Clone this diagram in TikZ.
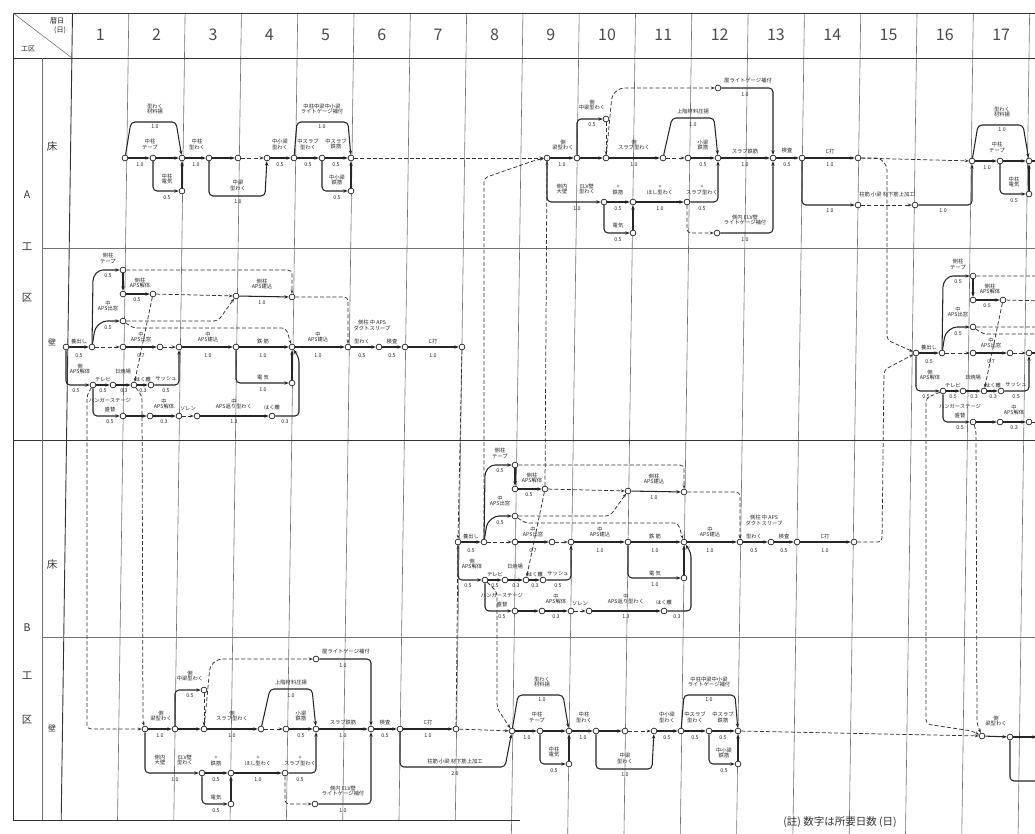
\documentclass[tikz,border=0pt]{standalone}
\usepackage{fontspec}
\setmainfont{Noto Sans CJK JP}
\usetikzlibrary{arrows.meta}
\tikzset{
  ev/.style={circle,draw=black!85,fill=white,inner sep=0pt,minimum size=5.8pt,line width=0.7pt},
  act/.style={draw=black!85,line width=1.05pt,rounded corners=4pt,-{Stealth[length=4.4pt,width=3.4pt]}},
  dum/.style={draw=black!80,line width=0.75pt,rounded corners=4pt,dash pattern=on 4pt off 2.2pt,-{Stealth[length=4pt,width=3pt]}},
  lb/.style={font=\fontsize{5.3}{5.9}\selectfont,align=center,inner sep=0pt,text=black!85},
  gl/.style={draw=black!55,line width=0.6pt},
  fr/.style={draw=black!80,line width=0.9pt},
  hd/.style={font=\fontsize{16}{16}\selectfont,inner sep=0pt,text=black!70},
  side/.style={font=\fontsize{10.5}{10.5}\selectfont,inner sep=0pt,text=black!80},
}
\def\dxoff{0}
\def\splitxy#1,#2\relax#3#4{%
  \pgfmathtruncatemacro\lbok{(#1+\dxoff)<1020}%
  \ifnum\lbok=1 \node[lb] (#3) at (#1,#2) {#4};\fi}
\newcommand\lbx[3]{\splitxy#2\relax{#1}{#3}}
% ---------- floor network, first half (A床 cols 2-6) ----------
\newcommand\netFa{%
\node[ev] (n1) at (125,158) {};
\node[ev] (n2) at (153,158) {};
\node[ev] (n3) at (182,158) {};
\node[ev] (n4) at (209,158) {};
\node[ev] (n5) at (238,158) {};
\node[ev] (n6) at (267,158) {};
\node[ev] (n7) at (294,158) {};
\node[ev] (n8) at (322,158) {};
\node[ev] (n9) at (351,158) {};
\node[ev] (n10) at (182,191) {};
\node[ev] (n11) at (351,191) {};
\draw[act] (n1) -- (n2);
\draw[act] (n2) -- (n3);
\draw[act] (n1) -- (131,122) -- (176,122) -- (n3);
\draw[act] (n2) |- (n10);
\draw[act] (n10) -- (n3);
\draw[act] (n3) -- (n4);
\draw[act] (n4) -- (n5);
\draw[dum] (n5) -- (n6);
\draw[act] (n4) -- (209,196) -- (265,196) -- (n6);
\draw[act] (n6) -- (n7);
\draw[act] (n7) -- (n8);
\draw[act] (n8) -- (n9);
\draw[act] (n7) -- (297,122) -- (348,122) -- (n9);
\draw[act] (n8) |- (n11);
\draw[act] (n11) -- (n9);
\lbx{t1}{155,109}{型わく\\材料揚}
\lbx{t2}{155,127}{1.0}
\lbx{t3}{150,144}{中柱\\テープ}
\lbx{t4}{140,165}{1.0}
\lbx{t5}{167,179}{中柱\\電気}
\lbx{t6}{167,198}{0.5}
\lbx{t7}{197,144}{中柱\\型わく}
\lbx{t8}{196,165}{1.0}
\lbx{t9}{238,185}{中梁\\型わく}
\lbx{t10}{238,202}{1.0}
\lbx{t11}{280,144}{中小梁\\型わく}
\lbx{t12}{280,165}{0.5}
\lbx{t13}{308,144}{中スラブ\\型わく}
\lbx{t14}{308,165}{0.5}
\lbx{t15}{336,144}{中スラブ\\鉄筋}
\lbx{t16}{336,165}{0.5}
\lbx{t17}{322,109}{中柱中梁中小梁\\ライトゲージ補付}
\lbx{t18}{322,127}{1.0}
\lbx{t19}{337,180}{中小梁\\鉄筋}
\lbx{t20}{337,198}{0.5}
}
% ---------- floor network, second half (A床 cols 9-14) ----------
\newcommand\netFb{%
\node[ev] (m1) at (547,158) {};
\node[ev] (m2) at (577,158) {};
\node[ev] (m3) at (606,158) {};
\node[ev] (m4) at (663,158) {};
\node[ev] (m5) at (688,158) {};
\node[ev] (m6) at (718,158) {};
\node[ev] (m7) at (773,158) {};
\node[ev] (m8) at (802,158) {};
\node[ev] (m9) at (858,158) {};
\node[ev] (m10) at (606,119) {};
\node[ev] (m11) at (718,88) {};
\node[ev] (m12) at (604,202) {};
\node[ev] (m13) at (633,202) {};
\node[ev] (m14) at (687,202) {};
\node[ev] (m15) at (633,233) {};
\node[ev] (m16) at (717,233) {};
\draw[act] (m1) -- (m2);
\draw[act] (m2) -- (m3);
\draw[act] (m2) |- (m10);
\draw[dum] (m10) -- (m3);
\draw[act] (m3) -- (m4);
\draw[dum] (m3) -- (612,95) -- (620,88) -- (m11);
\draw[act] (m11) -| (m7);
\draw[act] (m4) -- (672,118) -- (714,118) -- (m6);
\draw[dum] (m4) -- (m5);
\draw[act] (m5) -- (m6);
\draw[act] (m6) -- (m7);
\draw[act] (m7) -- (m8);
\draw[act] (m8) -- (m9);
\draw[act] (m1) |- (m12);
\draw[act] (m12) -- (m13);
\draw[act] (m12) |- (m15);
\draw[act] (m15) -- (m13);
\draw[act] (m13) -- (m14);
\draw[act] (m14) -| (m6);
\draw[dum] (m14) |- (m16);
\draw[act] (m16) -| (m7);
\lbx{s1}{563,145}{側\\梁型わく}
\lbx{s2}{562,165}{1.0}
\lbx{s3}{592,105}{側\\中梁型わく}
\lbx{s4}{592,125}{0.5}
\lbx{s5}{634,145}{側\\スラブ型わく}
\lbx{s6}{634,165}{1.0}
\lbx{s7}{748,80}{屋ライトゲージ補付}
\lbx{s8}{745,95}{1.0}
\lbx{s9}{693,111}{上階材料圧揚}
\lbx{s10}{693,125}{1.0}
\lbx{s11}{703,145}{小梁\\鉄筋}
\lbx{s12}{703,165}{0.5}
\lbx{s13}{745,151}{スラブ鉄筋}
\lbx{s14}{745,165}{1.0}
\lbx{s15}{787,151}{検査}
\lbx{s16}{787,165}{0.5}
\lbx{s17}{830,151}{C打}
\lbx{s18}{830,165}{1.0}
\lbx{s21}{562,189}{側内\\大壁}
\lbx{s22}{587,189}{ELV壁\\型わく}
\lbx{s23}{577,209}{1.0}
\lbx{s24}{618,190}{+\\鉄筋}
\lbx{s25}{618,209}{0.5}
\lbx{s26}{618,226}{電気}
\lbx{s27}{618,240}{0.5}
\lbx{s28}{660,190}{+\\ほし型わく}
\lbx{s29}{660,209}{1.0}
\lbx{s30}{702,190}{+\\スラブ型わく}
\lbx{s31}{702,209}{0.5}
\lbx{s32}{745,220}{側内 ELV壁\\ライトゲージ補付}
\lbx{s33}{745,240}{1.0}
}
% ---------- wall network (A壁 cols 1-8) ----------
\newcommand\netW{%
\node[ev] (w1) at (66,347) {};
\node[ev] (w2) at (92,347) {};
\node[ev] (w3) at (123,347) {};
\node[ev] (w4) at (160,347) {};
\node[ev] (w5) at (179,347) {};
\node[ev] (w6) at (236,347) {};
\node[ev] (w7) at (292,347) {};
\node[ev] (w8) at (348,347) {};
\node[ev] (w9) at (379,347) {};
\node[ev] (w10) at (405,347) {};
\node[ev] (w11) at (462,347) {};
\node[ev] (u1) at (123,270) {};
\node[ev] (u2) at (123,294) {};
\node[ev] (u3) at (153,294) {};
\node[ev] (u4) at (123,321) {};
\node[ev] (u5) at (236,296) {};
\node[ev] (u6) at (292,297) {};
\node[ev] (e1) at (292,383) {};
\node[ev] (l1) at (93,385) {};
\node[ev] (l2) at (113,385) {};
\node[ev] (l3) at (134,385) {};
\node[ev] (l4) at (151,385) {};
\node[ev] (l5) at (123,416) {};
\node[ev] (l6) at (150,416) {};
\node[ev] (l7) at (179,416) {};
\node[ev] (l8) at (197,416) {};
\node[ev] (l9) at (272,416) {};
\draw[act] (w1) -- (w2);
\draw[act] (w2) -- (93,277) -- (99,270) -- (u1);
\draw[act] (w2) -- (95,328) -- (103,321) -- (u4);
\draw[act] (u1) -- (u2);
\draw[act] (u2) -- (u3);
\draw[dum] (u1) -| (u6);
\draw[dum] (u3) -- (u5);
\draw[dum] (u4) -- (218,321) -- (u5);
\draw[dum] (u4) -- (133,328) -- (286,328) -- (w7);
\draw[dum] (u3) -- (l3);
\draw[dum] (w2) -- (w3);
\draw[act] (w3) -- (w4);
\draw[dum] (w4) -- (w5);
\draw[act] (w5) -- (w6);
\draw[act] (w6) -- (w7);
\draw[act] (w6) |- (e1);
\draw[act] (e1) -- (w7);
\draw[act] (u5) -- (u6);
\draw[dum] (u6) -| (w8);
\draw[act] (w7) -- (w8);
\draw[act] (w8) -- (w9);
\draw[act] (w9) -- (w10);
\draw[act] (w10) -- (w11);
\draw[act] (w1) |- (l1);
\draw[act] (l1) -- (l2);
\draw[act] (l2) -- (l3);
\draw[act] (l3) -- (l4);
\draw[act] (l4) -| (w5);
\draw[act] (l1) |- (l5);
\draw[act] (l5) -- (l6);
\draw[act] (l6) -- (l7);
\draw[dum] (l7) -- (l8);
\draw[act] (l8) -- (l9);
\draw[act] (l9) -- (299,416) -- (299,358) -- (w7);
\lbx{r1}{79,341}{養出し}
\lbx{r2}{79,356}{0.5}
\lbx{r3}{108,258}{側柱\\テープ}
\lbx{r4}{108,276}{0.5}
\lbx{r5}{140,283}{側柱\\APS解体}
\lbx{r6}{137,300}{0.5}
\lbx{r7}{108,306}{中\\APS出窓}
\lbx{r8}{108,328}{0.5}
\lbx{r9}{141,337}{中\\APS出窓}
\lbx{r10}{141,356}{0.7}
\lbx{r11}{208,337}{中\\APS建込}
\lbx{r12}{208,356}{1.0}
\lbx{r13}{263,341}{鉄\ 筋}
\lbx{r14}{263,356}{1.0}
\lbx{r15}{263,378}{電\ 気}
\lbx{r16}{263,390}{1.0}
\lbx{r17}{262,284}{側柱\\APS建込}
\lbx{r18}{262,303}{1.0}
\lbx{r19}{318,337}{中\\APS建込}
\lbx{r20}{318,356}{1.0}
\lbx{r21}{372,325}{側柱 中 APS\\ダクトスリーブ}
\lbx{r22}{362,341}{型わく}
\lbx{r23}{362,356}{0.5}
\lbx{r24}{392,341}{検査}
\lbx{r25}{392,356}{0.5}
\lbx{r26}{433,341}{C打}
\lbx{r27}{433,356}{1.0}
\lbx{r28}{80,369}{側\\APS解体}
\lbx{r29}{76,391}{0.5}
\lbx{r30}{123,371}{日焼場}
\lbx{r31}{103,379}{テレビ}
\lbx{r32}{143,379}{はく離}
\lbx{r33}{166,379}{サッシュ}
\lbx{r34}{103,391}{0.5}
\lbx{r35}{124,391}{0.3}
\lbx{r36}{143,391}{0.3}
\lbx{r37}{166,391}{0.5}
\lbx{r38}{110,400}{ハンガーステージ}
\lbx{r39}{110,409}{盛替}
\lbx{r40}{110,422}{0.5}
\lbx{r41}{164,404}{中\\APS解体}
\lbx{r42}{164,422}{0.3}
\lbx{r47}{188,409}{ソレン}
\lbx{r43}{234,404}{中\\APS返り型わく}
\lbx{r44}{234,422}{1.3}
\lbx{r45}{272,407}{はく離}
\lbx{r46}{285,422}{0.3}
}
\begin{document}
\begin{tikzpicture}[x=1pt,y=-1pt]
\path[use as bounding box] (0,0) rectangle (1035,834);
\clip (0,0) rectangle (1035,834);
\fill[white] (0,0) rectangle (1035,834);
% ---------- grid ----------
\foreach \k in {2,...,8}{
  \pgfmathsetmacro\cx{66+(\k-1)*56.3}
  \draw[gl] (\cx+6.5,13) -- (\cx-4.8,820);
}
\foreach \k in {9,...,18}{
  \pgfmathsetmacro\cx{66+(\k-1)*56.3}
  \draw[gl] (\cx+6.5,13) -- (\cx-5,834);
}
\foreach \k in {1,...,17}{
  \pgfmathsetmacro\cx{66+(\k-1)*56.3+28.15+6.2}
  \node[hd] (h\k) at (\cx,35) {\k};
}
\draw[fr] (72.5,13) -- (61.2,820);
\draw[fr] (13,13) -- (1035,13);
\draw[fr] (13,58) -- (1035,58);
\draw[fr] (13,13) -- (13,820) -- (520,820);
\draw[fr] (13,440) -- (1035,440);
\draw[gl] (42,58) -- (42,820);
\draw[gl] (42,248) -- (1035,248);
\draw[gl] (42,637) -- (1035,637);
\draw[gl] (13,13) -- (72,58);
\node[lb,font=\fontsize{7}{7}\selectfont] (hd1) at (57,21) {暦日};
\node[lb,font=\fontsize{7}{7}\selectfont] (hd2) at (60,30) {(日)};
\node[lb,font=\fontsize{7}{7}\selectfont] (hd3) at (28,49) {工区};
\node[side] (sA) at (27,195) {A};
\node[side] (sA2) at (27,247) {工};
\node[side] (sA3) at (27,298) {区};
\node[side] (sAf) at (52,147) {床};
\node[side,font=\fontsize{8}{8}\selectfont] (sAw) at (52,342) {壁};
\node[side] (sB) at (27,628) {B};
\node[side] (sB2) at (27,676) {工};
\node[side] (sB3) at (27,720) {区};
\node[side] (sBf) at (52,565) {床};
\node[side,font=\fontsize{8}{8}\selectfont] (sBw) at (52,728) {壁};
% ---------- networks ----------
\begin{scope}[name prefix=p-] \netFa \end{scope}
\begin{scope}[name prefix=q-] \netFb \end{scope}
\begin{scope}[shift={(847,3)},name prefix=d-] \def\dxoff{847}\netFa \end{scope}
\begin{scope}[name prefix=a-] \netW \end{scope}
\begin{scope}[shift={(392,195)},name prefix=b-] \def\dxoff{392}\netW \end{scope}
\begin{scope}[shift={(850,6)},name prefix=c-] \def\dxoff{850}\netW \end{scope}
\begin{scope}[shift={(-402,571)},name prefix=g-] \def\dxoff{-402}\netFb \end{scope}
\begin{scope}[shift={(387,573)},name prefix=h-] \def\dxoff{387}\netFa \end{scope}
\begin{scope}[shift={(463,579)},name prefix=i-] \def\dxoff{463}\netFb \end{scope}
% ---------- A floor links ----------
\draw[dum] (p-n9) -- (q-m1);
\node[ev] (ae1) at (858,205) {};
\node[ev] (ae2) at (915,205) {};
\draw[act] (q-m8) |- (ae1);
\draw[dum] (ae1) -- (ae2);
\draw[act] (ae2) -| (d-n1);
\lbx{ae3}{830,211}{1.0}
\lbx{ae4}{887,194}{柱筋\ 小梁\ 材下筋上加工}
\lbx{ae5}{943,211}{1.0}
\draw[dum] (q-m9) -- (d-n1);
\draw[dum] (q-m9) -- (880,158) -- (887,166) -- (887,340) -- (c-w1);
\draw[dum] (b-w11) -- (882,542) -- (884,370) -- (c-w1);
\draw[dum] (b-w2) -- (484,178) -- (536,160) -- (q-m1);
\draw[dum] (b-u3) -- (q-m1);
\draw[dum] (a-w11) -- (b-w1);
% ---------- B wall links ----------
\draw[act] (g-m8) |- (505,767) -- (h-n1);
\lbx{gx1}{455,761}{柱筋\ 小梁\ 材下筋上加工}
\lbx{gx2}{455,774}{2.0}
\draw[dum] (g-m9) -- (h-n1);
\draw[dum] (g-m9) -- (b-w1);
\draw[dum] (a-l1) -- (87,395) -- (87,729) -- (g-m1);
\draw[dum] (a-l3) -- (142,396) -- (143,722) -- (g-m1);
\draw[dum] (b-l1) -- (497,592) -- (497,708) -- (h-n1);
\node[ev] (x1) at (982,736) {};
\draw[dum] (h-n9) -- (x1);
\draw[act] (x1) -- (i-m1);
\lbx{x2}{996,721}{側\\梁型わく}
\draw[dum] (c-l1) -- (926,398) -- (926,724) -- (972,731) -- (x1);
\draw[dum] (c-l5) -- (976,430) -- (977,724) -- (x1);
% ---------- note ----------
\node[inner sep=0pt,font=\fontsize{10.5}{11}\selectfont,text=black!80] (note) at (840,822) {(註)\ 数字は所要日数\ (日)};
\end{tikzpicture}
\end{document}
